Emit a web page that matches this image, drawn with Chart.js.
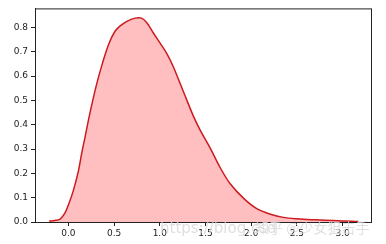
<!DOCTYPE html>
<html>
<head>
<meta charset="UTF-8" />
<title>KDE</title>
<script src="https://cdn.jsdelivr.net/npm/chart.js"></script>
<style>
  html, body { margin: 0; background: white; }
  #wrap { width: 386px; height: 244px; position: relative; }
</style>
</head>
<body>
<div id="wrap"><canvas id="kde"></canvas></div>
<script>
  // density curve
  const xs = [-0.21, -0.15, -0.09, -0.04, 0.0, 0.055, 0.11, 0.147, 0.183, 0.22, 0.263, 0.31, 0.37, 0.44, 0.51, 0.567, 0.64, 0.73, 0.80, 0.86, 0.93, 1.00, 1.08, 1.15, 1.26, 1.37, 1.44, 1.55, 1.66, 1.77, 1.92, 2.06, 2.21, 2.35, 2.50, 2.70, 2.90, 3.10, 3.17];
  const ys = [0.004, 0.006, 0.012, 0.035, 0.07, 0.13, 0.21, 0.285, 0.35, 0.42, 0.494, 0.568, 0.649, 0.73, 0.784, 0.806, 0.825, 0.838, 0.838, 0.818, 0.777, 0.737, 0.69, 0.636, 0.534, 0.433, 0.379, 0.305, 0.224, 0.157, 0.096, 0.055, 0.032, 0.019, 0.013, 0.009, 0.006, 0.003, 0.002];
  const xTicks = [0.0, 0.5, 1.0, 1.5, 2.0, 2.5, 3.0];
  const yTicks = [0.0, 0.1, 0.2, 0.3, 0.4, 0.5, 0.6, 0.7, 0.8];

  const font = { family: "DejaVu Sans", size: 9 };

  // box around the plot + watermark
  const frame = {
    id: 'frame',
    afterDraw(chart) {
      const { ctx, chartArea: a } = chart;
      ctx.save();
      ctx.strokeStyle = '#222';
      ctx.lineWidth = 1;
      ctx.strokeRect(a.left + 0.5, a.top + 0.5, a.right - a.left, a.bottom - a.top);
      ctx.fillStyle = 'rgba(215,215,215,0.8)';
      ctx.font = '15px "DejaVu Sans"';
      ctx.textBaseline = 'middle';
      ctx.fillText('https://blog.csd', 160, 229);
      ctx.font = '14px "Noto Sans CJK SC"';
      ctx.fillText('知乎 @少女狙击手', 255, 228);
      ctx.restore();
    }
  };

  new Chart(document.getElementById('kde'), {
    type: 'line',
    data: {
      datasets: [{
        data: xs.map((x, i) => ({ x: x, y: ys[i] })),
        borderColor: '#cc1a1f',
        borderWidth: 1.5,
        backgroundColor: 'rgba(255,190,192,1)',
        fill: 'origin',
        pointRadius: 0,
        tension: 0.35
      }]
    },
    options: {
      responsive: true,
      maintainAspectRatio: false,
      animation: false,
      layout: { padding: { top: 5, right: 15, left: 0, bottom: 0 } },
      plugins: { legend: { display: false }, tooltip: { enabled: false } },
      scales: {
        x: {
          type: 'linear',
          min: -0.365,
          max: 3.31,
          afterBuildTicks: (s) => { s.ticks = xTicks.map(v => ({ value: v })); },
          afterFit: (s) => { s.height = 22; },
          ticks: { color: '#222', font: font, padding: 2, maxRotation: 0, callback: v => v.toFixed(1) },
          grid: { display: true, drawOnChartArea: false, drawTicks: true, tickLength: 4, color: '#222' },
          border: { display: true, color: '#222' }
        },
        y: {
          min: 0,
          max: 0.878,
          afterBuildTicks: (s) => { s.ticks = yTicks.map(v => ({ value: v })); },
          afterFit: (s) => { s.width = 35; },
          ticks: { color: '#222', font: font, padding: 3, callback: v => v.toFixed(1) },
          grid: { display: true, drawOnChartArea: false, drawTicks: true, tickLength: 4, color: '#222' },
          border: { display: true, color: '#222' }
        }
      }
    },
    plugins: [frame]
  });
</script>
</body>
</html>
